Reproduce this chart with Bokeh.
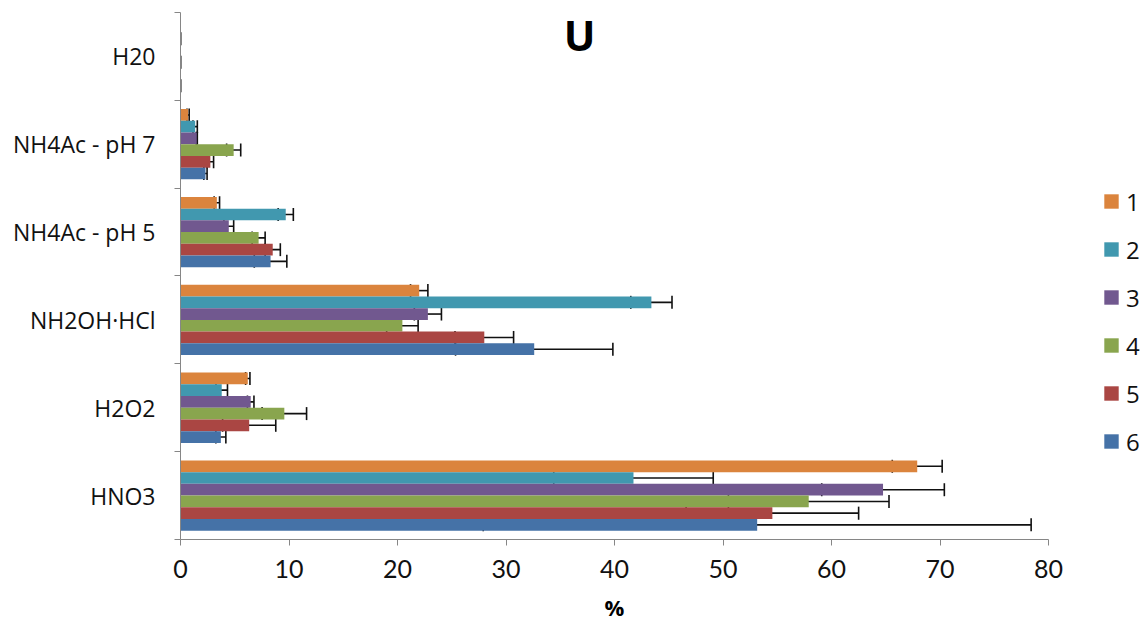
import numpy as np
from bokeh.plotting import figure
from bokeh.layouts import row
from bokeh.models import (ColumnDataSource, Range1d, FixedTicker, Whisker, TeeHead,
                          Legend, LegendItem, Label)
from bokeh.embed import file_html
from bokeh.resources import INLINE

# ---------------- data ----------------
categories = ["HNO3", "H2O2", "NH2OH·HCl", "NH4Ac - pH 5", "NH4Ac - pH 7", "H20"]  # bottom -> top
series = ["1", "2", "3", "4", "5", "6"]
colors = ["#DB843D", "#4198AF", "#71588F", "#89A54E", "#AA4643", "#4572A7"]
nan = float("nan")

s1 = [67.9, 6.2, 22.0, 3.35, 0.7, nan]
s2 = [41.75, 3.8, 43.4, 9.7, 1.35, 0.0]
s3 = [64.75, 6.47, 22.8, 4.45, 1.5, nan]
s4 = [57.9, 9.57, 20.45, 7.2, 4.9, 0.0]
s5 = [54.55, 6.33, 28.0, 8.5, 2.75, nan]
s6 = [53.15, 3.72, 32.6, 8.3, 2.3, 0.0]

e1 = [2.3, 0.2, 0.8, 0.25, 0.1, nan]
e2 = [7.35, 0.53, 1.9, 0.7, 0.2, 0.0]
e3 = [5.65, 0.3, 1.25, 0.45, 0.05, nan]
e4 = [7.4, 2.05, 1.45, 0.6, 0.65, 0.0]
e5 = [7.95, 2.45, 2.7, 0.7, 0.3, nan]
e6 = [25.25, 0.46, 7.25, 1.5, 0.15, 0.0]

values = [s1, s2, s3, s4, s5, s6]
errors = [e1, e2, e3, e4, e5, e6]

x_ticks = [0, 10, 20, 30, 40, 50, 60, 70, 80]

# ---------------- layout numbers (pixels) ----------------
H = 624
bottom_border = 83
plot_top_px = 12                      # where the category axis starts
cat_px = (H - bottom_border - plot_top_px) / len(categories)
n = len(categories)
y_end = n + plot_top_px / cat_px      # extra headroom so the title is inside the frame

# ---------------- main figure ----------------
p = figure(width=1065, height=H, output_backend="svg", toolbar_location=None,
           x_range=Range1d(0, 80), y_range=Range1d(0, y_end),
           min_border_left=180, min_border_right=17, min_border_top=0,
           min_border_bottom=bottom_border)
p.outline_line_color = None
p.xgrid.visible = False
p.ygrid.visible = False
p.background_fill_color = "white"
p.border_fill_color = "white"

bar_h = 0.8 / len(series)
centers = np.arange(n) + 0.5
for j, (vals, col) in enumerate(zip(values, colors)):
    y = centers + (len(series) / 2 - 0.5 - j) * bar_h
    v = np.array(vals, dtype=float)
    src = ColumnDataSource(dict(y=y, v=v))
    p.hbar(y="y", right="v", left=0, height=bar_h, source=src,
           fill_color=col, line_color=None)

for j, (vals, errs) in enumerate(zip(values, errors)):
    y = centers + (len(series) / 2 - 0.5 - j) * bar_h
    v = np.array(vals, dtype=float)
    e = np.array(errs, dtype=float)
    mask = ~np.isnan(v)
    src = ColumnDataSource(dict(y=y[mask], lo=(v - e)[mask], hi=(v + e)[mask]))
    w = Whisker(source=src, base="y", lower="lo", upper="hi", dimension="width",
                line_color="#111111", line_width=1.6,
                lower_head=TeeHead(size=13, line_color="#111111", line_width=1.6),
                upper_head=TeeHead(size=13, line_color="#111111", line_width=1.6))
    p.add_layout(w)

# ---------------- axes ----------------
axis_col = "#868686"
xa = p.xaxis[0]
xa.ticker = FixedTicker(ticks=x_ticks, minor_ticks=[])
xa.axis_line_color = axis_col
xa.major_tick_line_color = axis_col
xa.major_tick_out = 6
xa.major_tick_in = 0
xa.minor_tick_line_color = None
xa.major_label_text_font = "Lato"
xa.major_label_text_font_size = "25px"
xa.major_label_text_color = "#111111"
xa.major_label_standoff = 14
xa.axis_label = "%"
xa.axis_label_text_font = "Open Sans"
xa.axis_label_text_font_style = "bold"
xa.axis_label_text_font_size = "22px"
xa.axis_label_text_color = "#000000"
xa.axis_label_standoff = 11

ya = p.yaxis[0]
ya.bounds = (0, n)
ya.ticker = FixedTicker(ticks=list(centers), minor_ticks=list(range(n + 1)))
ya.major_label_overrides = {float(c): name for c, name in zip(centers, categories)}
ya.axis_line_color = axis_col
ya.major_tick_line_color = None
ya.major_tick_out = 0
ya.major_tick_in = 0
ya.minor_tick_line_color = axis_col
ya.minor_tick_out = 6
ya.minor_tick_in = 0
ya.major_label_text_font = "Open Sans"
ya.major_label_text_font_size = "23px"
ya.major_label_text_color = "#111111"
ya.major_label_standoff = 19

# ---------------- title ----------------
title = Label(x=399, y=505, x_units="screen", y_units="screen", text="U",
              text_font="Open Sans", text_font_style="bold", text_font_size="42px",
              text_align="center", text_baseline="middle", text_color="#000000")
p.add_layout(title)

# ---------------- legend (side figure) ----------------
lg = figure(width=80, height=H, output_backend="svg", toolbar_location=None,
            x_range=Range1d(0, 1), y_range=Range1d(0, 1),
            x_axis_type=None, y_axis_type=None,
            min_border_left=0, min_border_right=0, min_border_top=0, min_border_bottom=0)
lg.outline_line_color = None
lg.background_fill_color = "white"
lg.border_fill_color = "white"
items = []
for name, col in zip(series, colors):
    r = lg.hbar(y=[nan], right=[nan], left=0, height=0.1, fill_color=col, line_color=None)
    items.append(LegendItem(label=name, renderers=[r]))
legend = Legend(items=items, location=(37, 81), orientation="vertical",
                glyph_width=18, glyph_height=18, label_height=34, spacing=14,
                label_standoff=6, padding=0, margin=0,
                label_text_font="Open Sans", label_text_font_size="24px",
                label_text_color="#111111",
                border_line_color=None, background_fill_alpha=0)
lg.add_layout(legend, "center")

layout = row(p, lg)
open("out.html", "w").write(file_html(layout, INLINE))
